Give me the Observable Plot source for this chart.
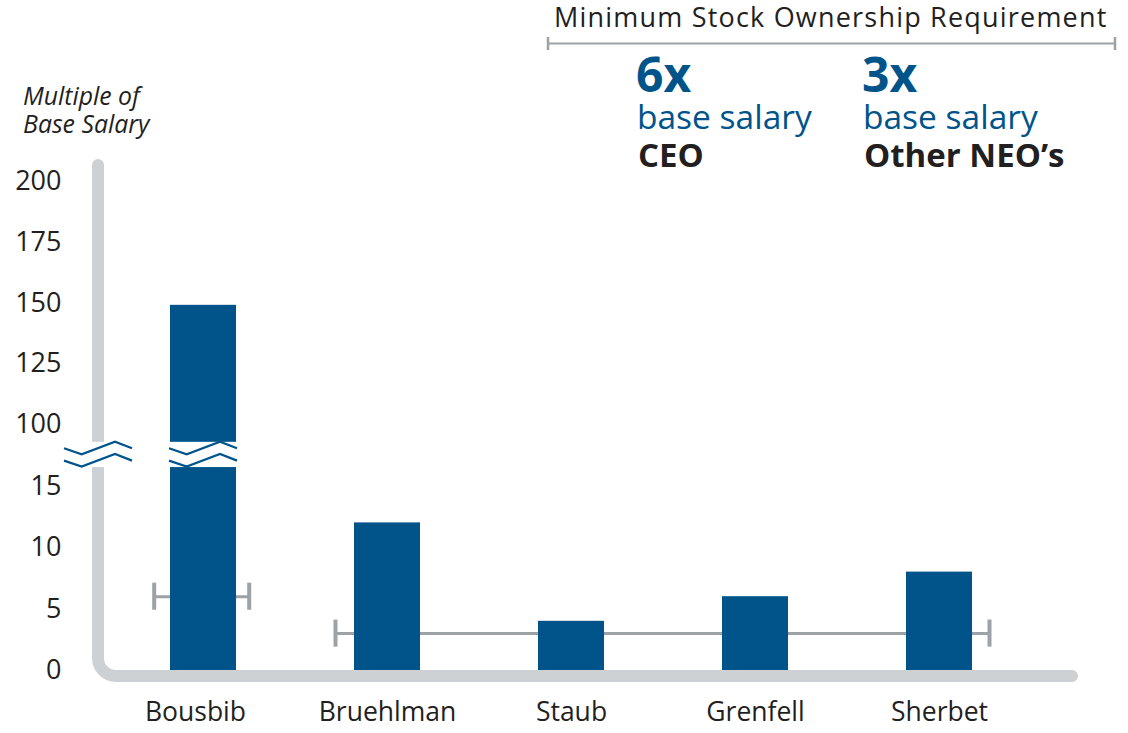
<!DOCTYPE html>
<html>
<head>
<meta charset="utf-8">
<script src="https://cdn.jsdelivr.net/npm/d3@7"></script>
<script src="https://cdn.jsdelivr.net/npm/@observablehq/plot@0.6"></script>
<style>
  html, body { margin: 0; padding: 0; background: #fff; }
  #chart { position: relative; width: 1128px; height: 733px; }
</style>
</head>
<body>
<div id="chart"></div>
<script>
// ---- data ----
const names = ["Bousbib", "Bruehlman", "Staub", "Grenfell", "Sherbet"];
const multiples = [149, 12, 4, 6, 8];
const yTicks = [0, 5, 10, 15, 100, 125, 150, 175, 200];
const ceoRequirement = 6;
const neoRequirement = 3;
const ceoSpan = [{from: "Bousbib", to: "Bousbib", value: ceoRequirement}];
const neoSpan = [{from: "Bruehlman", to: "Sherbet", value: neoRequirement}];
const brokenLow = 16.5;   // top of lower axis segment
const brokenHigh = 92.8;  // bottom of upper axis segment
const headerTitle = "Minimum Stock Ownership Requirement";
const ceoLabel = "CEO";
const neoLabel = "Other NEO\u2019s";
const yTitle = ["Multiple of", "Base Salary"];

const data = names.map((name, i) => ({name, value: multiples[i]}));

const BLUE = "#00548a";
const AXIS_GRAY = "#cdd1d3";
const RULE_GRAY = "#9da2a6";
const INK = "#231f20";

// ---- custom decorations drawn from scales ----
function axisLine(index, scales, values, dims) {
  const {y} = scales;
  const x0 = dims.marginLeft - 13;
  const yTop = y(200) - 15.5;
  const yBase = y(0) + 6;
  const xEnd = dims.width - dims.marginRight + 40;
  const r = 18;
  const g = d3.create("svg:g");
  g.append("path")
    .attr("d", `M${x0},${yTop} V${yBase - r} A${r},${r} 0 0 0 ${x0 + r},${yBase} H${xEnd}`)
    .attr("fill", "none")
    .attr("stroke", AXIS_GRAY)
    .attr("stroke-width", 12)
    .attr("stroke-linecap", "round");
  return g.node();
}

function breakMarks(index, scales, values, dims) {
  const {x, y} = scales;
  const yA = y(brokenHigh), yB = y(brokenLow);
  const yc = (yA + yB) / 2;
  const x0 = dims.marginLeft - 13;
  const g = d3.create("svg:g");
  // gap in axis line
  g.append("rect").attr("x", x0 - 8).attr("y", yA).attr("width", 16).attr("height", yB - yA).attr("fill", "white");
  // gap in the tall bar
  const bx = x(names[0]), bw = x.bandwidth();
  g.append("rect").attr("x", bx - 1).attr("y", yA).attr("width", bw + 2).attr("height", yB - yA).attr("fill", "white");
  const zig = (left, w) => {
    const fx = [0, 0.26, 0.75, 1];
    const oy = [-6.2, -0.2, -12.8, -6.2];
    for (const shift of [0, 12.4]) {
      const pts = fx.map((f, i) => [left + f * w, yc + oy[i] + shift]);
      g.append("path")
        .attr("d", "M" + pts.map(p => p.join(",")).join("L"))
        .attr("fill", "none")
        .attr("stroke", BLUE)
        .attr("stroke-width", 2.2);
    }
  };
  zig(x0 - 34, 68);
  zig(bx - 1, bw + 2);
  return g.node();
}

function caps(span, dxLeft, dxRight) {
  const common = {y1: d => d.value - 1.1, y2: d => d.value + 1.1, stroke: RULE_GRAY, strokeWidth: 4};
  return [
    Plot.ruleX(span, {...common, x: "from", dx: dxLeft}),
    Plot.ruleX(span, {...common, x: "to", dx: dxRight})
  ];
}

const xAxisStyle = {tickSize: 0, tickPadding: 31.5, fontSize: 26.5, label: null};

const svg = Plot.plot({
  width: 1128,
  height: 733,
  marginLeft: 111,
  marginRight: 96,
  marginTop: 0,
  marginBottom: 63,
  style: {fontFamily: "'Open Sans', sans-serif", color: INK, background: "white", overflow: "visible"},
  x: {domain: names, paddingInner: 0.639, paddingOuter: 0.3195, label: null},
  y: {type: "linear", domain: [0, 17.5, 87.5, 200], range: [670, 454.75, 454.75, 180.5], label: null},
  marks: [
    axisLine,
    Plot.ruleY(ceoSpan, {x1: "from", x2: "to", y: "value", stroke: RULE_GRAY, strokeWidth: 3, insetLeft: -16, insetRight: -12.6}),
    Plot.ruleY(neoSpan, {x1: "from", x2: "to", y: "value", stroke: RULE_GRAY, strokeWidth: 3, insetLeft: -18.7, insetRight: -16.6}),
    ...caps(ceoSpan, -49.3, 45.7),
    ...caps(neoSpan, -52, 50),
    Plot.barY(data, {x: "name", y: "value", fill: BLUE}),
    breakMarks,
    Plot.axisY(yTicks, {tickSize: 0, tickPadding: 50, fontSize: 27, label: null, tickFormat: d => String(d)}),
    Plot.axisX(names.slice(0, 1), {...xAxisStyle, dx: -8}),
    Plot.axisX(names.slice(1), xAxisStyle)
  ]
});

// ---- annotations ----
const ann = d3.select(svg).append("g")
  .attr("font-family", "'Open Sans', sans-serif")
  .attr("text-anchor", "start");
ann.append("text").attr("x", 554).attr("y", 27).attr("font-size", 27).attr("letter-spacing", 1.2).attr("fill", INK).text(headerTitle);
ann.append("path").attr("d", "M547,43.5 H1116").attr("stroke", RULE_GRAY).attr("stroke-width", 2).attr("fill", "none");
ann.append("path").attr("d", "M548,37 V50 M1115,37 V50").attr("stroke", RULE_GRAY).attr("stroke-width", 2.5).attr("fill", "none");

const groups = [
  {req: ceoRequirement, label: ceoLabel, x: 636},
  {req: neoRequirement, label: neoLabel, x: 862}
];
for (const gdef of groups) {
  ann.append("text").attr("x", gdef.x).attr("y", 92).attr("font-size", 48).attr("font-weight", 700).attr("fill", BLUE).text(`${gdef.req}x`);
  ann.append("text").attr("x", gdef.x + 1).attr("y", 129).attr("font-size", 33.5).attr("fill", BLUE).text("base salary");
  ann.append("text").attr("x", gdef.x + 2).attr("y", 167).attr("font-size", 33).attr("font-weight", 700).attr("fill", INK).text(gdef.label);
}
yTitle.forEach((line, i) => {
  ann.append("text").attr("x", 23).attr("y", 105 + i * 28).attr("font-size", 24.8).attr("font-style", "italic").attr("fill", INK).text(line);
});

document.getElementById("chart").appendChild(svg);
</script>
</body>
</html>
